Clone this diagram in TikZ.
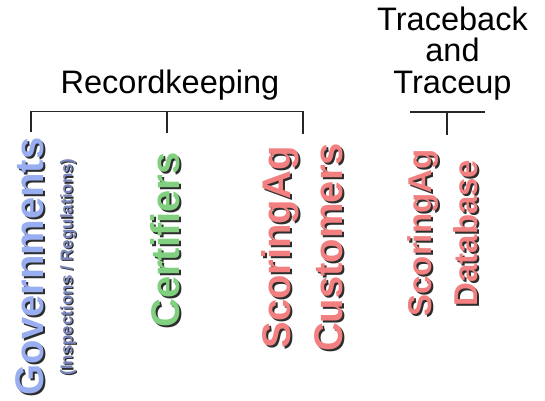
\documentclass[tikz,border=0pt]{standalone}
\usepackage{fontspec}
\setmainfont{Liberation Sans}
\definecolor{govblue}{RGB}{152,174,240}
\definecolor{certgreen}{RGB}{128,208,128}
\definecolor{agpink}{RGB}{242,128,128}
\definecolor{subblue}{RGB}{122,134,186}
\definecolor{shadowc}{RGB}{45,45,45}
\begin{document}
\begin{tikzpicture}[x=1pt,y=-1pt,
  title/.style={font=\fontsize{32.5}{31.5}\selectfont, align=center, inner sep=0pt, text=black},
  vlabel/.style={rotate=90, inner sep=0pt, align=center, font=\bfseries\fontsize{40}{52}\selectfont},
  dblabel/.style={rotate=90, inner sep=0pt, align=center, font=\bfseries\fontsize{33}{46}\selectfont},
  sublabel/.style={rotate=90, inner sep=0pt, font=\bfseries\fontsize{17}{20}\selectfont},
  shad/.style={text=shadowc},
  conn/.style={draw=black!85, line width=1.3pt}]
\useasboundingbox (0,0) rectangle (545,400);

% titles
\node[title, anchor=base] (rec) at (170,93) {Recordkeeping};
\node[title] (trace) at (452.5,53.3) {Traceback\\and\\Traceup};

% shadows
\node[vlabel, shad] (govS) at (32,268.5) {Governments};
\node[sublabel, shad] (subS) at (69.2,268.2) {(Inspections / Regulations)};
\node[vlabel, shad] (certS) at (167,242) {Certifiers};
\node[vlabel, shad] (custS) at (304,249.5) {ScoringAg\\Customers};
\node[dblabel, shad] (dbS) at (445,235) {ScoringAg\\Database};

% labels
\node[vlabel, text=govblue] (gov) at (30,266.5) {Governments};
\node[sublabel, text=subblue] (sub) at (68,267) {(Inspections / Regulations)};
\node[vlabel, text=certgreen] (cert) at (165,240) {Certifiers};
\node[vlabel, text=agpink] (cust) at (302,247.5) {ScoringAg\\Customers};
\node[dblabel, text=agpink] (db) at (443,233) {ScoringAg\\Database};

% bracket for Recordkeeping
\coordinate (bl) at (31,111.5);
\coordinate (bm) at (167,111.5);
\coordinate (br) at (303,111.5);
\coordinate (rg) at (31,132);
\coordinate (rc) at (167,133);
\coordinate (ru) at (303,134);
\draw[conn] (rg) -- (bl) -- (br) -- (ru);
\draw[conn] (bm) -- (rc);

% bracket for Traceback
\coordinate (tl) at (410,112);
\coordinate (tm) at (447,112);
\coordinate (tr) at (485,112);
\coordinate (td) at (447,135);
\draw[conn] (tl) -- (tr);
\draw[conn] (tm) -- (td);
\end{tikzpicture}
\end{document}
